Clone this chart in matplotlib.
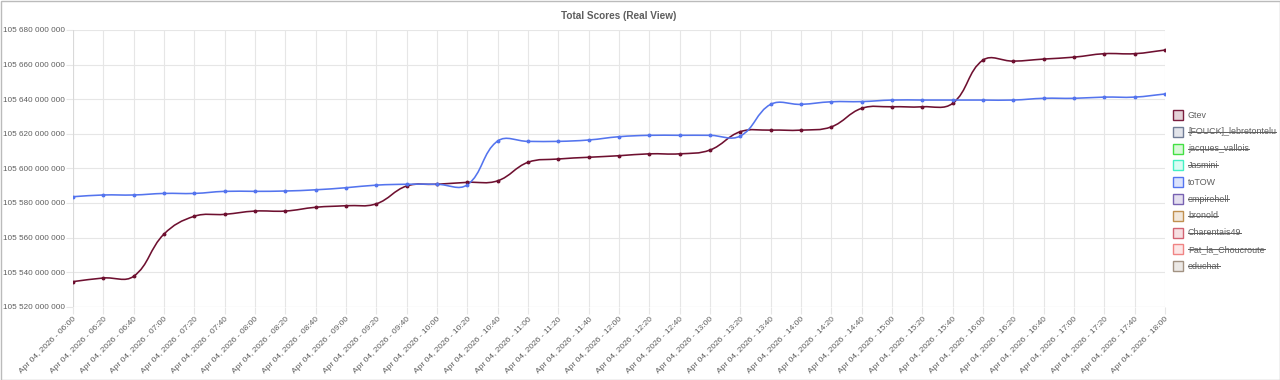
import numpy as np
import matplotlib
matplotlib.use("Agg")
import matplotlib.pyplot as plt
from matplotlib.path import Path
from matplotlib.patches import PathPatch, Rectangle
from matplotlib.lines import Line2D

plt.rcParams['font.family'] = ['Liberation Sans', 'DejaVu Sans']

# Daten
zeiten = ["06:00", "06:20", "06:40", "07:00", "07:20", "07:40", "08:00", "08:20", "08:40",
          "09:00", "09:20", "09:40", "10:00", "10:20", "10:40", "11:00", "11:20", "11:40",
          "12:00", "12:20", "12:40", "13:00", "13:20", "13:40", "14:00", "14:20", "14:40",
          "15:00", "15:20", "15:40", "16:00", "16:20", "16:40", "17:00", "17:20", "17:40", "18:00"]
labels = ["Apr 04, 2026 - " + z for z in zeiten]

# Werte in Millionen
gtev = [105534.5, 105536.6, 105537.6, 105562.0, 105572.3, 105573.4, 105575.3, 105575.3, 105577.5,
        105578.4, 105579.5, 105589.8, 105590.8, 105591.9, 105592.8, 105603.5, 105605.4, 105606.4,
        105607.3, 105608.4, 105608.4, 105610.6, 105621.2, 105622.1, 105622.1, 105624.0, 105634.7,
        105635.6, 105635.6, 105637.6, 105662.6, 105662.0, 105663.2, 105664.3, 105666.3, 105666.3,
        105668.4]
totow = [105583.6, 105584.6, 105584.6, 105585.5, 105585.5, 105586.7, 105586.7, 105586.9, 105587.6,
         105588.8, 105590.3, 105590.8, 105590.8, 105590.5, 105615.8, 105615.6, 105615.6, 105616.4,
         105618.3, 105619.1, 105619.1, 105619.1, 105618.7, 105637.0, 105637.0, 105638.5, 105638.6,
         105639.5, 105639.5, 105639.5, 105639.5, 105639.5, 105640.5, 105640.5, 105641.2, 105641.2,
         105643.0]

spieler = ["Gtev", "[FOUCK]_lebretontelu", "jacques_vallois", "Jasmini", "toTOW", "empirehell",
           "bronold", "Charentais49", "Pat_la_Choucroute", "educhat"]
sichtbar = [True, False, False, False, True, False, False, False, False, False]
rand_farben = ["#7a1e3e", "#707c96", "#44e044", "#44f0c4", "#5474f0", "#7862b2",
               "#c09050", "#d26272", "#f08484", "#a29282"]

yticks = np.arange(105520, 105681, 20)

fig = plt.figure(figsize=(12.8, 3.8), dpi=100)
ax = fig.add_axes([73/1280, 1 - 306.7/380, (1165-73)/1280, (306.7-30)/380])

x = np.arange(len(labels))
ax.set_xlim(0, len(labels) - 1)
ax.set_ylim(105520, 105680)

ax.set_xticks(x)
ax.set_xticklabels(labels, rotation=45, ha='right', rotation_mode='anchor', fontsize=6, color='#5e5e5e')
ax.set_yticks(yticks)
ax.set_yticklabels([f"{int(v*1e6):,}".replace(",", " ") for v in yticks], fontsize=5.85, color='#5e5e5e')
ax.tick_params(axis='both', length=5, color='#e6e6e6', pad=1.5)
ax.tick_params(axis='y', pad=1)
ax.grid(True, color='#e6e6e6', linewidth=0.8)
ax.set_axisbelow(True)
for s in ax.spines.values():
    s.set_visible(False)
ax.axvline(0, color='#d9d9d9', linewidth=0.8)
ax.axhline(105520, color='#d9d9d9', linewidth=0.8)


def spline_path(xs, ys, t=0.4):
    # Chart.js-artige Bezier-Kurve im Pixelraum
    pts = ax.transData.transform(np.column_stack([xs, ys]))
    n = len(pts)
    verts = [pts[0]]
    codes = [Path.MOVETO]
    cps = []
    for i in range(n):
        prev = pts[max(i - 1, 0)]
        cur = pts[i]
        nxt = pts[min(i + 1, n - 1)]
        d01 = np.hypot(*(cur - prev))
        d12 = np.hypot(*(nxt - cur))
        tot = d01 + d12
        s01 = d01 / tot if tot else 0
        s12 = d12 / tot if tot else 0
        cps.append((cur - t*s01*(nxt - prev), cur + t*s12*(nxt - prev)))
    for i in range(1, n):
        verts += [cps[i-1][1], cps[i][0], pts[i]]
        codes += [Path.CURVE4] * 3
    verts = ax.transData.inverted().transform(np.array(verts))
    return Path(verts, codes)


for werte, farbe in [(gtev, "#6e1030"), (totow, "#5474ee")]:
    ax.add_patch(PathPatch(spline_path(x, werte), facecolor='none', edgecolor=farbe, linewidth=1.15))
    ax.plot(x, werte, 'o', color=farbe, markersize=1.8, linestyle='none')

fig.text(619/1280, 1 - 16/380, "Total Scores (Real View)", ha='center', va='center',
         fontsize=7.2, fontweight='bold', color='#5e5e5e')

# Legende
texte = []
for i, name in enumerate(spieler):
    yc = 115 + i * 16.8
    fig.patches.append(Rectangle((1173/1280, 1 - (yc + 5)/380), 10/1280, 10/380,
                                 transform=fig.transFigure, facecolor=rand_farben[i] + "33",
                                 edgecolor=rand_farben[i], linewidth=1.0))
    t = fig.text(1188/1280, 1 - yc/380, name, ha='left', va='center', fontsize=6.4, color='#5e5e5e')
    texte.append(t)

fig.patches.append(Rectangle((0.5/1280, 0.5/380), 1 - 1/1280, 1 - 1/380, transform=fig.transFigure,
                             facecolor='none', edgecolor='#bbbbbb', linewidth=1.0))

fig.canvas.draw()
r = fig.canvas.get_renderer()
for t, an in zip(texte, sichtbar):
    if an:
        continue
    bb = t.get_window_extent(r)
    ym = (bb.y0 + bb.y1) / 2 / fig.bbox.height
    fig.lines.append(Line2D([bb.x0 / fig.bbox.width, bb.x1 / fig.bbox.width], [ym, ym],
                            transform=fig.transFigure, color='#5e5e5e', linewidth=0.7))

plt.savefig("out.png", dpi=100)
